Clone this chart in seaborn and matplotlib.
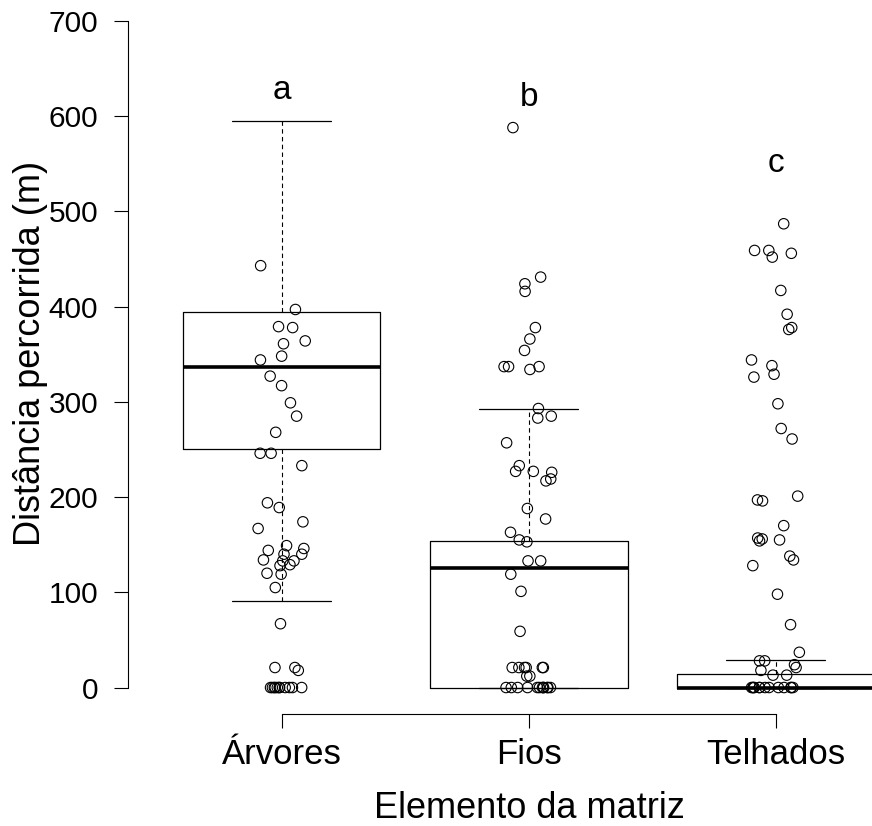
import numpy as np
import pandas as pd
import seaborn as sns
import matplotlib
matplotlib.use("Agg")
import matplotlib.pyplot as plt

# values
categorias = ["Árvores", "Fios", "Telhados"]

arvores = [443, 397, 379, 378, 364, 361, 348, 344, 327, 317, 299, 285, 268,
           246, 246, 233, 194, 189, 174, 167, 149, 146, 144, 140, 140, 134,
           133, 133, 129, 128, 120, 119, 105, 67, 21, 18, 21] + [0] * 11
fios = [588, 431, 424, 416, 378, 366, 354, 337, 337, 337, 334, 293, 285, 283,
        257, 233, 227, 227, 226, 219, 217, 188, 177, 163, 155, 153, 133, 133,
        119, 101, 59, 21, 21, 21, 21, 21, 21, 12, 12] + [0] * 12
telhados = [487, 459, 459, 456, 452, 417, 392, 378, 376, 344, 338, 329, 326,
            298, 272, 261, 201, 197, 196, 170, 157, 156, 155, 154, 138, 134,
            128, 98, 66, 37, 28, 28, 24, 21, 18, 13, 13] + [0] * 13

# box statistics (R boxplot, outline = FALSE)
q1 = [251, 0, 0]
medianas = [337, 125, 0]
q3 = [394.5, 153.5, 14]
bigode_inf = [90.5, 0, 0]
bigode_sup = [595, 293, 29]

letras = ["a", "b", "c"]

df = pd.DataFrame({
    "elemento": ["Árvores"] * len(arvores) + ["Fios"] * len(fios) + ["Telhados"] * len(telhados),
    "distancia": arvores + fios + telhados,
})

sns.set_style("white")
plt.rcParams["font.family"] = ["Liberation Sans", "DejaVu Sans"]
plt.rcParams.update({"text.color": "black", "axes.labelcolor": "black",
                     "xtick.color": "black", "ytick.color": "black"})

fig = plt.figure(figsize=(8.72, 8.26), dpi=100)
ax = fig.add_axes([128 / 872, 112 / 826, 744 / 872, 714 / 826])

stats = [dict(med=m, q1=a, q3=b, whislo=lo, whishi=hi, fliers=[])
         for m, a, b, lo, hi in zip(medianas, q1, q3, bigode_inf, bigode_sup)]
ax.bxp(stats, positions=range(len(categorias)), widths=0.8, capwidths=0.4,
       showfliers=False, manage_ticks=False,
       boxprops=dict(color="black", lw=0.9),
       medianprops=dict(color="black", lw=2.6, solid_capstyle="butt"),
       whiskerprops=dict(color="black", lw=0.8, linestyle=(0, (4, 3))),
       capprops=dict(color="black", lw=0.9))

np.random.seed(7)
sns.stripplot(data=df, x="elemento", y="distancia", order=categorias, ax=ax,
              jitter=0.1, size=7.5, facecolor="none", edgecolor="black",
              linewidth=0.8, zorder=3)

for i, (txt, yy) in enumerate(zip(letras, [618, 611, 541])):
    ax.text(i, yy, txt, ha="center", va="baseline", fontsize=24, color="black")

ax.set_xlim(-0.6215, 2.389)
ax.set_ylim(-27.8, 722)

for side in ["top", "right"]:
    ax.spines[side].set_visible(False)
ax.spines["left"].set_bounds(0, 700)
ax.spines["bottom"].set_bounds(0, 2)
for side in ["left", "bottom"]:
    ax.spines[side].set_color("black")
    ax.spines[side].set_linewidth(0.8)

ax.set_yticks(range(0, 701, 100))
ax.set_xticks(range(len(categorias)), categorias)
ax.tick_params(axis="y", length=10, width=0.8, color="black", pad=11.5,
               labelsize=21.5, left=True, direction="out", labelcolor="black")
ax.tick_params(axis="x", length=10, width=0.8, color="black", pad=26,
               labelsize=25, bottom=True, direction="out", labelcolor="black")
plt.setp(ax.get_xticklabels(), va="baseline")

ax.set_xlabel("Elemento da matriz", fontsize=26, color="black")
ax.xaxis.label.set_va("baseline")
ax.xaxis.set_label_coords((529 - 128) / 744, (714 - 818) / 714)
ax.set_ylabel("Distância percorrida (m)", fontsize=26, color="black")
ax.yaxis.label.set_va("baseline")
ax.yaxis.set_label_coords((40 - 128) / 744, (714 - 353) / 714)

fig.savefig("out.png", dpi=100)
